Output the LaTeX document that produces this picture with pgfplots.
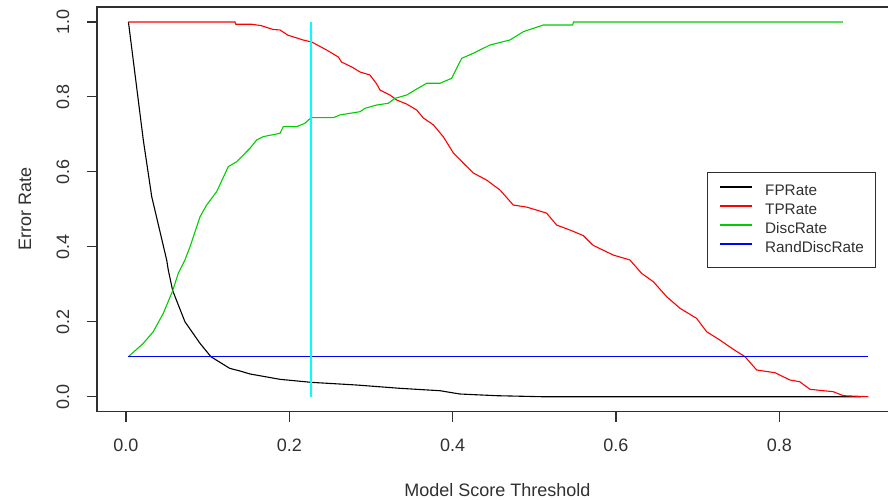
\documentclass[border=0pt]{standalone}
\usepackage{fontspec}
\setmainfont{Liberation Sans}
\usepackage{pgfplots}
\pgfplotsset{compat=1.18}
\definecolor{rgreen}{HTML}{00CD00}
\definecolor{rcyan}{HTML}{00FFFF}
\definecolor{axgray}{HTML}{303030}
\begin{document}
\begin{tikzpicture}
\begin{axis}[
  scale only axis, width=800.7pt, height=404.7pt,
  xmin=-0.0355, xmax=0.945, ymin=-0.04, ymax=1.04,
  axis line style={axgray, line width=1.1pt},
  tick style={axgray, line width=1.1pt},
  tick align=outside, major tick length=10pt,
  xtick pos=bottom, ytick pos=left,
  xtick={0,0.2,0.4,0.6,0.8}, ytick={0,0.2,0.4,0.6,0.8,1.0},
  xticklabels={0.0,0.2,0.4,0.6,0.8}, yticklabels={0.0,0.2,0.4,0.6,0.8,1.0},
  xticklabel style={font=\fontsize{18}{20}\selectfont, text=axgray, anchor=center, yshift=-24pt},
  yticklabel style={font=\fontsize{18}{20}\selectfont, text=axgray, xshift=-24pt, rotate=90, anchor=center},
  xlabel={Model Score Threshold}, ylabel={Error Rate},
  xlabel style={font=\fontsize{18}{20}\selectfont, text=axgray, at={(axis description cs:0.5,-0.1927)}, anchor=center},
  ylabel style={font=\fontsize{18}{20}\selectfont, text=axgray, at={(axis description cs:-0.0899,0.5)}, anchor=center},
  legend style={at={(axis description cs:0.7615,0.593)}, anchor=north west, draw=axgray, line width=0.9pt, fill=white,
    inner xsep=12pt, inner ysep=11pt, row sep=3pt,
    font=\fontsize{15.3}{18}\selectfont,
    nodes={inner sep=0pt, text height=12pt, text depth=4pt, text=axgray},
    /tikz/every odd column/.append style={column sep=12pt}},
  legend cell align=left,
  legend image code/.code={\draw[#1, line width=2pt] (0pt,4.5pt) -- (32pt,4.5pt);},
]
\addplot[black, line width=1.1pt] coordinates {
(0.003,1.0) (0.0212,0.685) (0.0315,0.534) (0.0498,0.365) (0.0518,0.338) (0.0572,0.283)
(0.0722,0.200) (0.0906,0.1425) (0.104,0.1067) (0.127,0.0757) (0.1396,0.0686) (0.152,0.0606)
(0.1886,0.0464) (0.2265,0.0384) (0.2825,0.0312) (0.3355,0.0224) (0.3845,0.016) (0.409,0.0072)
(0.454,0.0027) (0.509,0) (0.90,0)};
\addlegendentry{FPRate}
\addplot[red, line width=1.1pt] coordinates {
(0.003,1.0) (0.1335,1.0) (0.1345,0.994) (0.154,0.994) (0.166,0.99) (0.18,0.98) (0.1886,0.9787)
(0.198,0.965) (0.2168,0.952) (0.2274,0.9466) (0.2458,0.925) (0.26,0.9066) (0.264,0.893)
(0.2764,0.88) (0.2866,0.8666) (0.2988,0.8584) (0.307,0.8346) (0.311,0.8185) (0.3233,0.805)
(0.3315,0.7918) (0.3437,0.781) (0.356,0.765) (0.364,0.744) (0.3765,0.7253) (0.3887,0.6932)
(0.4009,0.6505) (0.413,0.6237) (0.4253,0.597) (0.4417,0.578) (0.458,0.5515) (0.4743,0.5115)
(0.4907,0.506) (0.515,0.49) (0.5274,0.4581) (0.5437,0.4448) (0.56,0.43) (0.572,0.404)
(0.5967,0.378) (0.617,0.365) (0.6315,0.329) (0.6457,0.307) (0.662,0.267) (0.6784,0.236)
(0.6988,0.209) (0.711,0.1735) (0.7274,0.151) (0.7437,0.1265) (0.758,0.1068) (0.7723,0.0713)
(0.7947,0.064) (0.813,0.0446) (0.825,0.04) (0.8376,0.0197) (0.866,0.0134) (0.8784,0.0027) (0.909,0)};
\addlegendentry{TPRate}
\addplot[rgreen, line width=1.1pt] coordinates {
(0.003,0.107) (0.0212,0.1425) (0.0334,0.1735) (0.0457,0.2226) (0.0572,0.283) (0.064,0.329)
(0.0722,0.365) (0.0784,0.40) (0.0906,0.48) (0.0988,0.5116) (0.111,0.547) (0.1253,0.614)
(0.1355,0.627) (0.1518,0.663) (0.16,0.685) (0.168,0.694) (0.1886,0.703) (0.1926,0.7206)
(0.209,0.7206) (0.219,0.7296) (0.2266,0.7446) (0.254,0.7446) (0.262,0.752) (0.2866,0.7606)
(0.2927,0.7697) (0.307,0.7785) (0.3212,0.783) (0.3295,0.7964) (0.3437,0.805) (0.3539,0.8185)
(0.3682,0.8364) (0.3845,0.8364) (0.3988,0.8497) (0.4111,0.903) (0.4253,0.9165) (0.4458,0.9386)
(0.4702,0.952) (0.4865,0.974) (0.511,0.992) (0.547,0.992) (0.548,1.0) (0.878,1.0)};
\addlegendentry{DiscRate}
\addplot[blue, line width=1.1pt] coordinates {(0.003,0.1068) (0.909,0.1068)};
\addlegendentry{RandDiscRate}
\addplot[rcyan, line width=1.1pt, forget plot] coordinates {(0.2265,0) (0.2265,1)};
\coordinate (sw) at (rel axis cs:0,0);
\end{axis}
\pgfresetboundingbox
\path[use as bounding box] ([xshift=-97pt,yshift=-88.3pt]sw) rectangle ([xshift=791pt,yshift=411.7pt]sw);
\end{tikzpicture}
\end{document}
